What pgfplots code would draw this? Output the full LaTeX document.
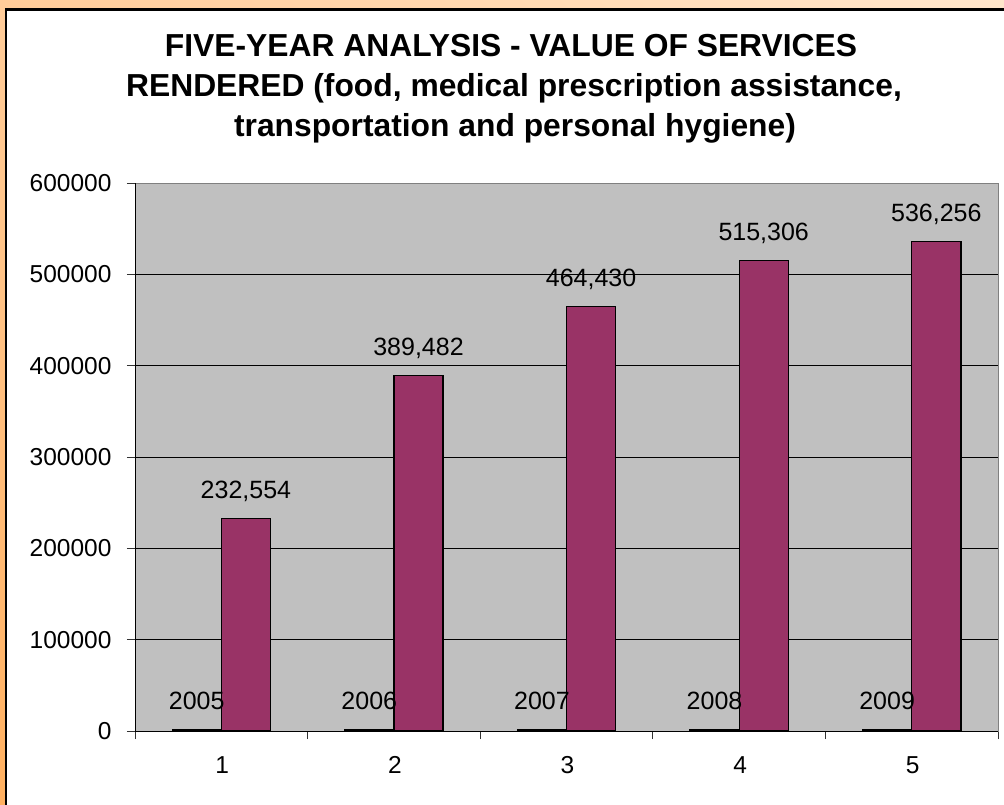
\documentclass[border=0pt]{standalone}
\usepackage{pgfplots}
\pgfplotsset{compat=1.18}
\usetikzlibrary{shadings}
\usepackage{fontspec}
\setmainfont{Liberation Sans}
\definecolor{barpurple}{HTML}{993366}
\definecolor{plotgrey}{HTML}{C0C0C0}
\definecolor{ulc}{HTML}{FFCC99}
\definecolor{urc}{HTML}{FFE6CC}
\definecolor{llc}{HTML}{FFB060}
\definecolor{lrc}{HTML}{FFD3A6}
\begin{document}
\begin{tikzpicture}
\useasboundingbox (0pt,0pt) rectangle (1004pt,-805pt);
\shade[upper left=ulc, upper right=urc, lower left=llc, lower right=lrc] (0pt,0pt) rectangle (1004pt,-805pt);
\fill[white] (6pt,-9.5pt) rectangle (1004pt,-805pt);
\draw[line width=2.5pt] (6pt,-805pt) -- (6pt,-9.5pt) -- (1004pt,-9.5pt);
\node[anchor=base, font=\fontsize{31.8}{40}\selectfont\bfseries] at (511pt,-56.5pt) {FIVE-YEAR ANALYSIS - VALUE OF SERVICES};
\node[anchor=base, font=\fontsize{31.8}{40}\selectfont\bfseries] at (514pt,-96.5pt) {RENDERED (food, medical prescription assistance,};
\node[anchor=base, font=\fontsize{31.8}{40}\selectfont\bfseries] at (515pt,-136.5pt) {transportation and personal hygiene)};
\begin{axis}[
  at={(135pt,-731pt)}, anchor=south west,
  scale only axis, width=863pt, height=548pt,
  xmin=0.5, xmax=5.5, ymin=0, ymax=600000,
  axis background/.style={fill=plotgrey},
  axis line style={draw=gray, line width=1pt},
  ytick={0,100000,200000,300000,400000,500000,600000},
  scaled y ticks=false,
  yticklabel style={/pgf/number format/fixed, /pgf/number format/1000 sep={}, /pgf/number format/assume math mode=true, xshift=-12pt},
  ymajorgrids, grid style={black, line width=0.8pt},
  xtick={0.5,1.5,2.5,3.5,4.5,5.5}, xticklabels={},
  extra x ticks={1,2,3,4,5}, extra x tick labels={1,2,3,4,5},
  extra x tick style={tick style={draw=none}, xticklabel style={yshift=-14pt, xshift=1pt}},
  tick align=outside, tick pos=left,
  major tick length=8pt,
  tick style={draw=black!80, line width=0.8pt},
  tick label style={font=\fontsize{24.5}{28}\selectfont},
  ybar, bar width=0.285,
  clip=false,
]
\addplot[fill=black, draw=black, line width=1.2pt, bar shift=-0.1425,
  nodes near coords={\pgfmathprintnumber[1000 sep={}, assume math mode=true]{\pgfplotspointmeta}},
  nodes near coords style={anchor=base, inner sep=0pt, yshift=20pt, font=\fontsize{25}{28}\selectfont, text=black}]
  coordinates {(1,2005) (2,2006) (3,2007) (4,2008) (5,2009)};
\addplot[fill=barpurple, draw=black, line width=1.2pt, bar shift=0.1425,
  nodes near coords={\pgfmathprintnumber[fixed, precision=0, 1000 sep={,}, assume math mode=true]{\pgfplotspointmeta}},
  nodes near coords style={anchor=base, inner sep=0pt, yshift=20pt, font=\fontsize{25}{28}\selectfont, text=black}]
  coordinates {(1,232554) (2,389482) (3,464430) (4,515306) (5,536256)};
\draw[black, line width=1pt] (rel axis cs:0,1) -- (rel axis cs:0,0) -- (rel axis cs:1,0);
\end{axis}
\end{tikzpicture}
\end{document}
